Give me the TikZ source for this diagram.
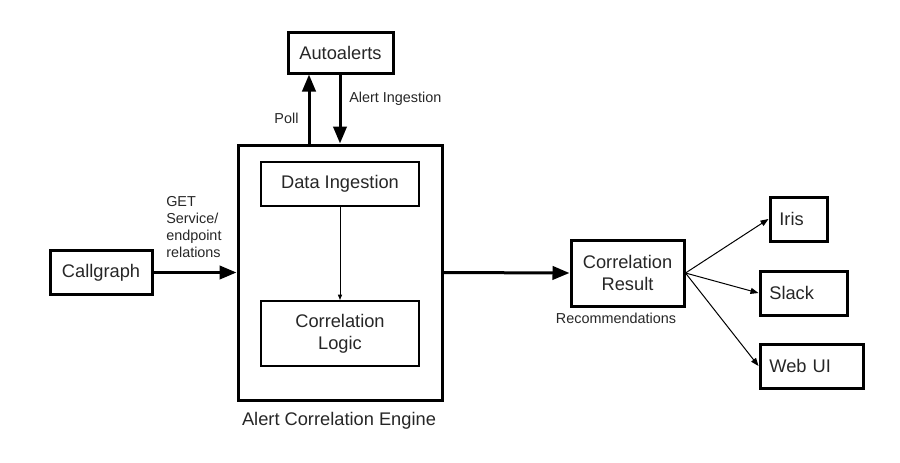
\documentclass[tikz,border=0pt]{standalone}
\usepackage{fontspec}
\setmainfont{Liberation Sans}
\usetikzlibrary{arrows.meta}
\begin{document}
\begin{tikzpicture}[x=0.75pt,y=-0.75pt,
  big/.style={font=\fontsize{13.7}{16.5}\selectfont, text=black!85},
  small/.style={font=\fontsize{10.8}{12.75}\selectfont, text=black!85},
  box/.style={draw, line width=2.25pt, big, align=center, inner sep=0pt},
  inbox/.style={draw, line width=1.5pt, big, align=center, inner sep=0pt},
  leftbox/.style={draw, line width=2.25pt, big, align=left, inner ysep=0pt, inner xsep=7pt},
  heavy/.style={line width=2.25pt, -{Triangle[length=12.75pt,width=10pt]}},
  thin/.style={line width=0.75pt, -{Triangle[length=6pt,width=4.5pt]}},
  tiny/.style={line width=0.75pt, -{Triangle[length=4pt,width=3pt]}}]
\useasboundingbox (0,0) rectangle (900,462);
\node[box, minimum width=78.75pt, minimum height=30.75pt] (auto) at (340.5,52.5) {Autoalerts};
\node[box, minimum width=153pt, minimum height=191.25pt] (engine) at (340,272.5) {};
\node[inbox, minimum width=118.5pt, minimum height=33pt] (di) at (340,184) {Data Ingestion};
\node[inbox, minimum width=118.5pt, minimum height=48.75pt] (cl) at (340,333.5) {Correlation\\Logic};
\node[box, minimum width=76.5pt, minimum height=33pt] (cg) at (101,272.5) {Callgraph};
\node[box, minimum width=84.75pt, minimum height=49.5pt] (cr) at (627.5,273) {Correlation\\Result};
\node[leftbox, text width=28.75pt, minimum height=33pt] (iris) at (798.5,219) {Iris};
\node[leftbox, text width=51.25pt, minimum height=33pt] (slack) at (803.5,293) {Slack};
\node[leftbox, text width=63.25pt, minimum height=33pt] (web) at (811.5,366) {Web UI};

\node[big] (acelabel) at (339,421) {Alert Correlation Engine};
\node[small] (poll) at (286.5,118) {Poll};
\node[small, anchor=west, inner sep=0pt] (ai) at (349,99) {Alert Ingestion};
\node[small] (rec) at (616,318) {Recommendations};
\node[small, anchor=west, align=left, inner sep=0pt] (get) at (166,227.5) {GET\\Service/\\endpoint\\relations};

\coordinate (px) at (309,0);
\coordinate (ax) at (340,0);
\draw[heavy] (engine.north -| px) -- (auto.south -| px);
\draw[heavy] (auto.south -| ax) -- (engine.north -| ax);
\draw[heavy] (cg.east) -- (engine.west);
\draw[heavy] (engine.east) -- (cr.west);
\draw[tiny] (di.south) -- (cl.north);
\draw[thin] (cr.east) -- (iris.west);
\draw[thin] (cr.east) -- (slack.west);
\draw[thin] (cr.east) -- (web.west);
\end{tikzpicture}
\end{document}
